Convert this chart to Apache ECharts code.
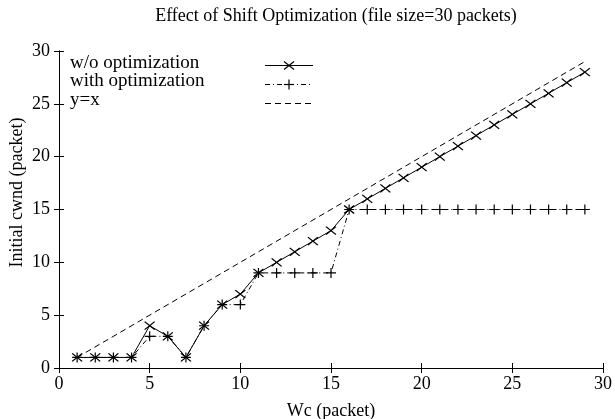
<!DOCTYPE html>
<html>
<head>
<meta charset="utf-8">
<script src="https://cdn.jsdelivr.net/npm/echarts@6/dist/echarts.min.js"></script>
<style>
html,body{margin:0;padding:0;background:#fff;}
#chart{width:615px;height:419px;}
</style>
</head>
<body>
<div id="chart"></div>
<script>
const titleText = 'Effect of Shift Optimization (file size=30 packets)';
const xName = 'Wc (packet)';
const yName = 'Initial cwnd (packet)';
const seriesNames = ['w/o optimization', 'with optimization', 'y=x'];
const wc = [1,2,3,4,5,6,7,8,9,10,11,12,13,14,15,16,17,18,19,20,21,22,23,24,25,26,27,28,29];
const withoutOpt = [1,1,1,1,4,3,1,4,6,7,9,10,11,12,13,15,16,17,18,19,20,21,22,23,24,25,26,27,28];
const withOpt = [1,1,1,1,3,3,1,4,6,6,9,9,9,9,9,15,15,15,15,15,15,15,15,15,15,15,15,15,15];
const identityX = [1,29];
const identityY = [1,29];

const FONT = 'Liberation Serif, Times New Roman, serif';
const X_SYM = 'path://M0,0L10,10M10,0L0,10';
const P_SYM = 'path://M0,5L10,5M5,0L5,10';
const DASHDOT = [5,3,1,3];
const DASH = [6,4];

function pairs(xs, ys){ return xs.map((x,i)=>[x, ys[i]]); }

const chart = echarts.init(document.getElementById('chart'), null, {renderer:'canvas'});

const axisCommon = {
  min: 0, max: 30, interval: 5,
  axisLine: {show:true, lineStyle:{color:'#000', width:1}},
  axisTick: {show:true, inside:true, length:5, lineStyle:{color:'#000', width:1}},
  splitLine: {show:false}
};

const grid = {left:59, right:12, top:51, bottom:51, containLabel:false, outerBoundsMode:'none'};

const legendRows = [
  {name: seriesNames[0], dash: 'solid', sym: 'x'},
  {name: seriesNames[1], dash: DASHDOT, sym: '+'},
  {name: seriesNames[2], dash: DASH, sym: null}
];
const graphics = [];
legendRows.forEach((r, i) => {
  const ty = 63 + i*18.5;
  const ly = 65.5 + i*19;
  graphics.push({type:'text', x:70, y:ty, style:{text:r.name, font:'19px ' + FONT, fill:'#000', textVerticalAlign:'middle', verticalAlign:'middle'}});
  graphics.push({type:'line', shape:{x1:265, y1:ly, x2:313, y2:ly}, style:{stroke:'#000', lineWidth:1, lineDash: r.dash === 'solid' ? null : r.dash}});
  if (r.sym === 'x') {
    graphics.push({type:'line', shape:{x1:284, y1:ly-4, x2:294, y2:ly+4}, style:{stroke:'#000', lineWidth:1.2}});
    graphics.push({type:'line', shape:{x1:294, y1:ly-4, x2:284, y2:ly+4}, style:{stroke:'#000', lineWidth:1.2}});
  } else if (r.sym === '+') {
    graphics.push({type:'line', shape:{x1:284, y1:ly, x2:294, y2:ly}, style:{stroke:'#000', lineWidth:1.2}});
    graphics.push({type:'line', shape:{x1:289, y1:ly-5, x2:289, y2:ly+5}, style:{stroke:'#000', lineWidth:1.2}});
  }
});

const option = {
  backgroundColor:'#fff',
  animation:false,
  title:{text:titleText, left:331, top:2, textAlign:'center', textStyle:{fontFamily:FONT, fontSize:18, fontWeight:'normal', color:'#000'}},
  grid: grid,
  xAxis:[
    Object.assign({}, axisCommon, {type:'value', position:'bottom', name:xName, nameLocation:'middle', nameGap:34,
      nameTextStyle:{fontFamily:FONT, fontSize:18, color:'#000'},
      axisLabel:{fontFamily:FONT, fontSize:18, color:'#000', margin:7}}),
    Object.assign({}, axisCommon, {type:'value', position:'top', axisLabel:{show:false}})
  ],
  yAxis:[
    Object.assign({}, axisCommon, {type:'value', position:'left', name:yName, nameLocation:'middle', nameGap:33,
      nameMoveOverlap:false,
      nameTextStyle:{fontFamily:FONT, fontSize:18, color:'#000', padding:[0,0,0,34]},
      axisLabel:{fontFamily:FONT, fontSize:18, color:'#000', margin:9}}),
    Object.assign({}, axisCommon, {type:'value', position:'right', axisLabel:{show:false}})
  ],
  graphic: graphics,
  series:[
    {name:seriesNames[2], type:'line', data:pairs(identityX, identityY), showSymbol:false, symbol:'none',
     lineStyle:{color:'#000', width:1, type:DASH}, silent:true, z:1},
    {name:seriesNames[1], type:'line', data:pairs(wc, withOpt), symbol:P_SYM, symbolSize:10, showAllSymbol:true,
     itemStyle:{color:'rgba(0,0,0,0)', borderColor:'#000', borderWidth:1.2},
     lineStyle:{color:'#000', width:1, type:DASHDOT}, silent:true, z:2},
    {name:seriesNames[0], type:'line', data:pairs(wc, withoutOpt), symbol:X_SYM, symbolSize:[10,8], showAllSymbol:true,
     itemStyle:{color:'rgba(0,0,0,0)', borderColor:'#000', borderWidth:1.2},
     lineStyle:{color:'#000', width:1, type:'solid'}, silent:true, z:3}
  ]
};
chart.setOption(option);
</script>
</body>
</html>
